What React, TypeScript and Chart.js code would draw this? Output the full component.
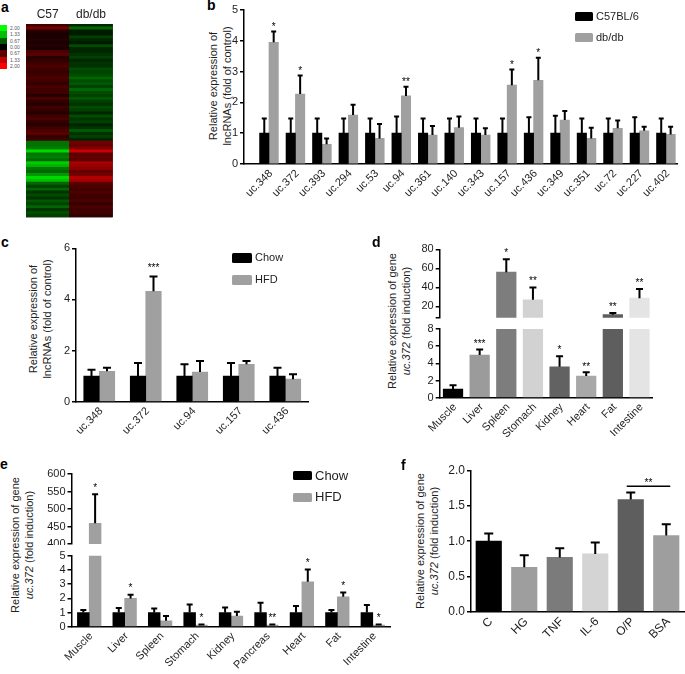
import React, { useEffect, useRef } from 'react';
import { Chart, registerables } from 'chart.js';

Chart.register(...registerables);

const FONT = "'Liberation Sans', Arial, Helvetica, sans-serif";
const INK = '#1e1e1e';
Chart.defaults.font.family = FONT;

// ---------------- panel a (heat map) ----------------
const heatColumns = ['C57', 'db/db'];
const heatC57 = [
  0.5, 0.9, 0.3, 0.2, 0.2, 0.3, 0.2, 0.3, 0.2, 0.6, 0.7, 0.3, 0.4, 0.5, 0.6, 0.5, 0.4, 0.5, 0.6, 0.5,
  0.4, 0.6, 0.5, 0.5, 0.3, 0.6, 0.4, 0.3, 0.5, 0.4, 0.3, 0.5, 0.6, 0.4, 0.3, 0.5, 0.6, 0.7, 0.4, 0.5,
  -0.9, -0.9, -1.0, -1.7, -0.9, -1.0, -0.8, -1.6, -1.4, -0.9, -0.8, -1.2, -1.7, -1.5, -0.8, -0.5,
  -0.8, -0.4, -0.6, -0.4, -0.7, -0.5, -0.8, -0.4, -0.6, -0.5,
];
const heatDb = [
  -0.3, -0.8, -0.2, -0.2, -0.5, -0.3, -0.2, -0.6, -0.3, -0.3, -0.4, -0.5, -0.3, -0.4, -0.4, -0.6, -0.5, -0.6, -0.8, -0.6,
  -0.7, -0.5, -0.8, -0.6, -0.5, -0.7, -0.5, -0.4, -0.6, -0.5, -0.3, -0.6, -0.4, -0.5, -0.3, -0.4, -0.7, -0.4, -0.5, -0.3,
  0.9, 0.8, 1.0, 1.6, 0.7, 0.8, 0.7, 1.3, 1.2, 1.1, 0.8, 0.9, 1.4, 1.3, 0.7, 0.6,
  0.5, 0.6, 0.5, 0.5, 0.6, 0.4, 0.6, 0.5, 0.5, 0.4,
];
const heatScaleLabels = ['2.00', '1.33', '0.67', '0.00', '0.67', '1.33', '2.00'];
const heatScaleColors = ['#00ff00', '#00c000', '#005a00', '#000000', '#5a0000', '#c00000', '#ff0000'];

// ---------------- panel b ----------------
const bCategories = ['uc.348', 'uc.372', 'uc.393', 'uc.294', 'uc.53', 'uc.94', 'uc.361', 'uc.140',
  'uc.343', 'uc.157', 'uc.436', 'uc.349', 'uc.351', 'uc.72', 'uc.227', 'uc.402'];
const bSeries = ['C57BL/6', 'db/db'];
const bColors = ['#000000', '#a0a0a0'];
const bC57 = [1, 1, 1, 1, 1, 1, 1, 1, 1, 1, 1, 1, 1, 1, 1, 1];
const bC57Err = [0.48, 0.48, 0.48, 0.48, 0.48, 0.54, 0.48, 0.48, 0.48, 0.48, 0.52, 0.57, 0.48, 0.48, 0.52, 0.48];
const bDb = [3.95, 2.27, 0.64, 1.59, 0.83, 2.21, 0.94, 1.18, 0.94, 2.56, 2.72, 1.43, 0.83, 1.16, 1.08, 0.96];
const bDbErr = [0.35, 0.6, 0.19, 0.33, 0.47, 0.3, 0.29, 0.36, 0.22, 0.51, 0.73, 0.29, 0.35, 0.25, 0.13, 0.25];
const bSig = ['*', '*', '', '', '', '**', '', '', '', '*', '*', '', '', '', '', ''];
const bTicks = [0, 1, 2, 3, 4, 5];

// ---------------- panel c ----------------
const cCategories = ['uc.348', 'uc.372', 'uc.94', 'uc.157', 'uc.436'];
const cSeries = ['Chow', 'HFD'];
const cChow = [1, 1, 1, 1, 1];
const cChowErr = [0.25, 0.51, 0.46, 0.51, 0.33];
const cHFD = [1.19, 4.32, 1.16, 1.46, 0.88];
const cHFDErr = [0.14, 0.58, 0.43, 0.13, 0.19];
const cSig = ['', '***', '', '', ''];
const cTicks = [0, 2, 4, 6];

// ---------------- panel d ----------------
const dCategories = ['Muscle', 'Liver', 'Spleen', 'Stomach', 'Kidney', 'Heart', 'Fat', 'Intestine'];
const dValues = [1.0, 4.96, 55.9, 26.9, 3.6, 2.52, 11.2, 28.6];
const dErrors = [0.45, 0.66, 13.6, 13.0, 1.24, 0.43, 1.8, 9.5];
const dSig = ['', '***', '*', '**', '*', '**', '**', '**'];
const dShades = ['#000000', '#9b9b9b', '#7d7d7d', '#d2d2d2', '#626262', '#a8a8a8', '#5e5e5e', '#e4e4e4'];
const dTicksLow = [0, 2, 4, 6, 8];
const dTicksHigh = [8, 20, 40, 60, 80];

// ---------------- panel e ----------------
const eCategories = ['Muscle', 'Liver', 'Spleen', 'Stomach', 'Kidney', 'Pancreas', 'Heart', 'Fat', 'Intestine'];
const eSeries = ['Chow', 'HFD'];
const eChow = [1, 1, 1, 1, 1, 1, 1, 1, 1];
const eChowErr = [0.17, 0.31, 0.29, 0.57, 0.36, 0.69, 0.45, 0.17, 0.52];
const eHFD = [459, 1.99, 0.42, 0.12, 0.75, 0.12, 3.16, 2.11, 0.12];
const eHFDErr = [83, 0.26, 0.33, 0.04, 0.3, 0.04, 0.87, 0.3, 0.04];
const eSig = ['*', '*', '', '*', '', '**', '*', '*', '*'];
const eTicksLow = [0, 1, 2, 3, 4, 5];
const eTicksHigh = [400, 450, 500, 550, 600];

// ---------------- panel f ----------------
const fCategories = ['C', 'HG', 'TNF', 'IL-6', 'O/P', 'BSA'];
const fValues = [1.0, 0.63, 0.77, 0.82, 1.59, 1.08];
const fErrors = [0.11, 0.17, 0.13, 0.16, 0.1, 0.16];
const fShades = ['#000000', '#9e9e9e', '#7b7b7b', '#d4d4d4', '#5e5e5e', '#9e9e9e'];
const fTicks = [0, 0.5, 1, 1.5, 2];
const fBrackets = [{ from: 4, to: 5, value: 1.78, label: '**' }];

// ---------------- helpers ----------------
type Area = { l: number; t: number; r: number; b: number; yW: number; xH: number; xTop?: boolean };
type Pad = { l: number; t: number; r: number; b: number };

function frame(a: Area, pad: Pad) {
  const left = Math.floor(a.l - a.yW - pad.l);
  const top = Math.floor(a.t - pad.t - (a.xTop ? a.xH : 0));
  const right = Math.ceil(a.r + pad.r);
  const bottom = Math.ceil(a.b + pad.b + (a.xTop ? 0 : a.xH));
  return {
    left,
    top,
    width: right - left,
    height: bottom - top,
    padding: {
      left: a.l - a.yW - left,
      top: a.t - (a.xTop ? a.xH : 0) - top,
      right: right - a.r,
      bottom: bottom - a.b - (a.xTop ? 0 : a.xH),
    },
  };
}

const base = (padding: any) => ({
  responsive: false,
  maintainAspectRatio: false,
  animation: false,
  devicePixelRatio: 1,
  events: [],
  layout: { padding },
  plugins: { legend: { display: false }, tooltip: { enabled: false }, title: { display: false } },
});

function yAxis(a: Area, min: number, max: number, ticks: number[], size = 11,
  fmt: (v: number) => string = (v) => String(v), hide: number[] = []) {
  return {
    type: 'linear',
    min,
    max,
    afterBuildTicks: (s: any) => { s.ticks = ticks.map((v) => ({ value: v })); },
    afterFit: (s: any) => { s.width = a.yW; s.paddingTop = 0; s.paddingBottom = 0; },
    border: { display: true, color: '#000', width: 1.5 },
    grid: { display: true, drawOnChartArea: false, drawTicks: true, tickLength: 4, color: '#000', lineWidth: 1.5 },
    ticks: {
      font: { family: FONT, size },
      color: INK,
      padding: 2,
      autoSkip: false,
      callback: (v: number) => (hide.includes(v) ? '' : fmt(v)),
    },
  };
}

function xAxis(a: Area, size = 11, display = true) {
  return {
    type: 'category',
    display,
    offset: true,
    afterFit: (s: any) => { s.height = a.xH; s.paddingLeft = 0; s.paddingRight = 0; },
    border: { display: true, color: '#000', width: 1.5 },
    grid: { display: false, drawTicks: false },
    ticks: {
      font: { family: FONT, size },
      color: INK,
      minRotation: 45,
      maxRotation: 45,
      autoSkip: false,
      padding: 3,
      labelOffset: 2,
    },
  };
}

type ErrCfg = {
  errors: number[][];
  sig: string[][];
  cap: number;
  width: number;
  gap: number;
  star: number;
  brackets?: { from: number; to: number; value: number; label: string }[];
};

function errorBars(cfg: ErrCfg) {
  return {
    id: 'errorBars',
    afterDatasetsDraw(chart: any) {
      const ctx = chart.ctx;
      const ys = chart.scales.y;
      const xs = chart.scales.x;
      ctx.save();
      ctx.strokeStyle = '#000';
      ctx.fillStyle = '#000';
      ctx.lineWidth = cfg.width;
      ctx.font = `${cfg.star}px ${FONT}`;
      ctx.textAlign = 'center';
      ctx.textBaseline = 'alphabetic';
      chart.data.datasets.forEach((ds: any, di: number) => {
        const meta = chart.getDatasetMeta(di);
        meta.data.forEach((el: any, i: number) => {
          const raw = ds.data[i];
          const v = raw != null && typeof raw === 'object' ? raw.y : raw;
          if (v == null || v > ys.max || v < ys.min) return;
          const e = (cfg.errors[di] || [])[i] || 0;
          const x = el.x;
          const top = ys.getPixelForValue(v + e);
          if (e > 0) {
            ctx.beginPath();
            ctx.moveTo(x, el.y);
            ctx.lineTo(x, top);
            ctx.moveTo(x - cfg.cap / 2, top);
            ctx.lineTo(x + cfg.cap / 2, top);
            ctx.stroke();
          }
          const s = (cfg.sig[di] || [])[i];
          if (s) ctx.fillText(s, x, top - cfg.gap + 0.57 * cfg.star);
        });
      });
      (cfg.brackets || []).forEach((bk) => {
        const y = ys.getPixelForValue(bk.value);
        const x1 = xs.getPixelForValue(bk.from) - 4;
        const x2 = xs.getPixelForValue(bk.to) + 4;
        ctx.lineWidth = 1.5;
        ctx.beginPath();
        ctx.moveTo(x1, y);
        ctx.lineTo(x2, y);
        ctx.stroke();
        ctx.fillText(bk.label, (x1 + x2) / 2, y - 6 + 0.57 * cfg.star);
      });
      ctx.restore();
    },
  };
}

const heatBackdrop = {
  id: 'heatBackdrop',
  beforeDatasetsDraw(chart: any) {
    const { ctx, chartArea: a } = chart;
    ctx.save();
    ctx.fillStyle = '#000';
    ctx.fillRect(a.left, a.top, a.right - a.left, a.bottom - a.top);
    ctx.restore();
  },
};

const heatColor = (v: number) => {
  const k = Math.round(Math.min(1, Math.abs(v) / 2) * 255);
  return v >= 0 ? `rgb(${k},0,0)` : `rgb(0,${k},0)`;
};

function ChartCanvas({ area, pad, make }: { area: Area; pad: Pad; make: (padding: any) => any }) {
  const ref = useRef<HTMLCanvasElement>(null);
  const f = frame(area, pad);
  useEffect(() => {
    const chart = new Chart(ref.current as HTMLCanvasElement, make(f.padding));
    return () => chart.destroy();
  }, []);
  return (
    <canvas
      ref={ref}
      width={f.width}
      height={f.height}
      style={{ position: 'absolute', left: f.left, top: f.top, width: f.width, height: f.height }}
    />
  );
}

function Letter({ ch, x, y }: { ch: string; x: number; y: number }) {
  return (
    <div style={{ position: 'absolute', left: x, top: y, font: `bold 14px ${FONT}`, lineHeight: '14px', color: '#000' }}>
      {ch}
    </div>
  );
}

function YTitle({ cx, cy, children }: { cx: number; cy: number; children: React.ReactNode }) {
  return (
    <div
      style={{
        position: 'absolute', left: cx, top: cy, transform: 'translate(-50%, -50%) rotate(-90deg)',
        whiteSpace: 'nowrap', textAlign: 'center', font: `11px ${FONT}`, lineHeight: '13.5px', color: INK,
      }}
    >
      {children}
    </div>
  );
}

function Legend({ x, y, w, h, step, size, items }: {
  x: number; y: number; w: number; h: number; step: number; size: number;
  items: { label: string; color: string }[];
}) {
  return (
    <>
      {items.map((it, i) => (
        <React.Fragment key={it.label}>
          <div style={{ position: 'absolute', left: x, top: y + i * step, width: w, height: h, background: it.color, borderRadius: 1.5 }} />
          <div style={{ position: 'absolute', left: x + w + 3, top: y + i * step + h / 2 - size * 0.6, font: `${size}px ${FONT}`, lineHeight: `${size * 1.2}px`, color: INK, whiteSpace: 'nowrap' }}>
            {it.label}
          </div>
        </React.Fragment>
      ))}
    </>
  );
}

// ---------------- geometry of plot areas ----------------
const heatArea: Area = { l: 26, t: 24, r: 112.7, b: 217.3, yW: 0, xH: 24, xTop: true };
const bArea: Area = { l: 244, t: 10, r: 677.3, b: 164, yW: 30, xH: 45 };
const cArea: Area = { l: 76, t: 248.3, r: 308.5, b: 401.7, yW: 30, xH: 48 };
const dTopArea: Area = { l: 439.7, t: 249.3, r: 652.8, b: 317.7, yW: 30, xH: 0 };
const dLowArea: Area = { l: 439.7, t: 329, r: 652.8, b: 397.7, yW: 30, xH: 50 };
const eTopArea: Area = { l: 71.5, t: 474, r: 390.5, b: 544, yW: 30, xH: 0 };
const eLowArea: Area = { l: 71.5, t: 555.7, r: 390.5, b: 626.7, yW: 30, xH: 46 };
const fArea: Area = { l: 471, t: 470.7, r: 684, b: 611.7, yW: 34, xH: 50 };

const PAD: Pad = { l: 0, t: 8, r: 5, b: 1 };

export default function App() {
  const heatRows = heatC57.map((c, i) => [c, heatDb[i]]);
  return (
    <div style={{ position: 'absolute', left: 0, top: 0, width: 685, height: 674, overflow: 'hidden', background: '#fff' }}>
      {/* panel a */}
      <Letter ch="a" x={1} y={0} />
      {heatScaleColors.map((c, i) => (
        <div key={'hs' + i} style={{ position: 'absolute', left: 0, top: 25 + i * 6.3, width: 7, height: 6.4, background: c }} />
      ))}
      {heatScaleLabels.map((t, i) => (
        <div key={'hl' + i} style={{ position: 'absolute', left: 10, top: 25 + i * 6.3, height: 6.3, font: `5px ${FONT}`, lineHeight: '6.3px', color: '#555' }}>
          {t}
        </div>
      ))}
      <ChartCanvas
        area={heatArea}
        pad={{ l: 0, t: 0, r: 0, b: 0 }}
        make={(padding) => ({
          type: 'bar',
          data: {
            labels: heatColumns,
            datasets: heatRows.slice().reverse().map((row) => ({
              data: [1, 1],
              backgroundColor: [heatColor(row[0]), heatColor(row[1])],
              borderWidth: 0,
              categoryPercentage: 1,
              barPercentage: 1,
              stack: 'heat',
            })),
          },
          options: {
            ...base(padding),
            scales: {
              x: {
                position: 'top',
                stacked: true,
                offset: true,
                afterFit: (s: any) => { s.height = heatArea.xH; s.paddingLeft = 0; s.paddingRight = 0; },
                grid: { display: false, drawTicks: false },
                border: { display: false },
                ticks: { font: { family: FONT, size: 12 }, color: INK, padding: 2, maxRotation: 0 },
              },
              y: { display: false, stacked: true, min: 0, max: heatRows.length },
            },
          },
          plugins: [heatBackdrop],
        })}
      />

      {/* panel b */}
      <Letter ch="b" x={207} y={-2} />
      <YTitle cx={220} cy={86}>
        Relative expression of<br />lncRNAs (fold of control)
      </YTitle>
      <ChartCanvas
        area={bArea}
        pad={PAD}
        make={(padding) => ({
          type: 'bar',
          data: {
            datasets: [
              { label: bSeries[0], data: bC57.map((y, x) => ({ x, y })), backgroundColor: bColors[0], barThickness: 9.4, borderWidth: 0 },
              { label: bSeries[1], data: bDb.map((y, x) => ({ x, y })), backgroundColor: bColors[1], barThickness: 9.4, borderWidth: 0 },
            ],
          },
          options: {
            ...base(padding),
            scales: {
              x: {
                ...xAxis(bArea),
                type: 'linear',
                min: -0.944,
                max: 15.43,
                offset: false,
                grid: { display: false, drawTicks: false, offset: false },
                afterBuildTicks: (s: any) => { s.ticks = bCategories.map((_, i) => ({ value: i })); },
                ticks: { ...xAxis(bArea).ticks, callback: (v: number) => bCategories[Math.round(v)] },
              },
              y: yAxis(bArea, 0, 5, bTicks),
            },
          },
          plugins: [errorBars({ errors: [bC57Err, bDbErr], sig: [[], bSig], cap: 5, width: 2, gap: 7, star: 10 })],
        })}
      />
      <Legend x={575} y={12} w={18} h={9} step={21} size={11}
        items={[{ label: bSeries[0], color: bColors[0] }, { label: bSeries[1], color: bColors[1] }]} />

      {/* panel c */}
      <Letter ch="c" x={1} y={235} />
      <YTitle cx={40} cy={319}>
        Relative expression of<br />lncRNAs (fold of control)
      </YTitle>
      <ChartCanvas
        area={cArea}
        pad={PAD}
        make={(padding) => ({
          type: 'bar',
          data: {
            labels: cCategories,
            datasets: [
              { label: cSeries[0], data: cChow, backgroundColor: bColors[0], barThickness: 15.5, borderWidth: 0 },
              { label: cSeries[1], data: cHFD, backgroundColor: bColors[1], barThickness: 15.5, borderWidth: 0 },
            ],
          },
          options: { ...base(padding), scales: { x: xAxis(cArea), y: yAxis(cArea, 0, 6, cTicks) } },
          plugins: [errorBars({ errors: [cChowErr, cHFDErr], sig: [[], cSig], cap: 8, width: 2, gap: 11, star: 10 })],
        })}
      />
      <Legend x={232} y={252.7} w={20} h={10} step={22.3} size={11}
        items={[{ label: cSeries[0], color: bColors[0] }, { label: cSeries[1], color: bColors[1] }]} />

      {/* panel d */}
      <Letter ch="d" x={372} y={235} />
      <YTitle cx={399} cy={321}>
        Relative expression of gene<br /><i>uc.372</i> (fold induction)
      </YTitle>
      <ChartCanvas
        area={dTopArea}
        pad={PAD}
        make={(padding) => ({
          type: 'bar',
          data: {
            labels: dCategories,
            datasets: [{ data: dValues.map((v) => (v > dTicksHigh[0] ? v : null)), backgroundColor: dShades, barThickness: 19.6, borderWidth: 0, clip: 0 }],
          },
          options: {
            ...base(padding),
            scales: {
              x: xAxis(dTopArea, 11, false),
              y: yAxis(dTopArea, dTicksHigh[0], dTicksHigh[dTicksHigh.length - 1], dTicksHigh, 11, (v) => String(v), [dTicksHigh[0]]),
            },
          },
          plugins: [errorBars({ errors: [dErrors], sig: [dSig], cap: 7, width: 2, gap: 9, star: 10 })],
        })}
      />
      <ChartCanvas
        area={dLowArea}
        pad={PAD}
        make={(padding) => ({
          type: 'bar',
          data: {
            labels: dCategories,
            datasets: [{ data: dValues, backgroundColor: dShades, barThickness: 19.6, borderWidth: 0, clip: 0 }],
          },
          options: {
            ...base(padding),
            scales: { x: xAxis(dLowArea), y: yAxis(dLowArea, 0, dTicksLow[dTicksLow.length - 1], dTicksLow) },
          },
          plugins: [errorBars({ errors: [dErrors], sig: [dSig], cap: 7, width: 2, gap: 8.5, star: 10 })],
        })}
      />

      {/* panel e */}
      <Letter ch="e" x={0} y={457} />
      <YTitle cx={21.5} cy={545}>
        Relative expression of gene<br /><i>uc.372</i> (fold induction)
      </YTitle>
      <ChartCanvas
        area={eTopArea}
        pad={PAD}
        make={(padding) => ({
          type: 'bar',
          data: {
            labels: eCategories,
            datasets: [
              { data: eChow.map((v) => (v > eTicksHigh[0] ? v : null)), backgroundColor: bColors[0], barThickness: 11.8, borderWidth: 0, clip: 0 },
              { data: eHFD.map((v) => (v > eTicksHigh[0] ? v : null)), backgroundColor: bColors[1], barThickness: 11.8, borderWidth: 0, clip: 0 },
            ],
          },
          options: {
            ...base(padding),
            scales: {
              x: xAxis(eTopArea, 11, false),
              y: yAxis(eTopArea, eTicksHigh[0], eTicksHigh[eTicksHigh.length - 1], eTicksHigh),
            },
          },
          plugins: [errorBars({ errors: [eChowErr, eHFDErr], sig: [[], eSig], cap: 6, width: 2, gap: 9, star: 10 })],
        })}
      />
      <ChartCanvas
        area={eLowArea}
        pad={PAD}
        make={(padding) => ({
          type: 'bar',
          data: {
            labels: eCategories,
            datasets: [
              { data: eChow, backgroundColor: bColors[0], barThickness: 11.8, borderWidth: 0, clip: 0 },
              { data: eHFD, backgroundColor: bColors[1], barThickness: 11.8, borderWidth: 0, clip: 0 },
            ],
          },
          options: {
            ...base(padding),
            scales: { x: xAxis(eLowArea), y: yAxis(eLowArea, 0, eTicksLow[eTicksLow.length - 1], eTicksLow) },
          },
          plugins: [errorBars({ errors: [eChowErr, eHFDErr], sig: [[], eSig], cap: 6, width: 2, gap: 9, star: 10 })],
        })}
      />
      <Legend x={293} y={471} w={19} h={9} step={21.7} size={13}
        items={[{ label: eSeries[0], color: bColors[0] }, { label: eSeries[1], color: bColors[1] }]} />

      {/* panel f */}
      <Letter ch="f" x={401} y={458} />
      <YTitle cx={426.5} cy={541}>
        Relative expression of gene<br /><i>uc.372</i> (fold induction)
      </YTitle>
      <ChartCanvas
        area={fArea}
        pad={{ l: 0, t: 8, r: 1, b: 1 }}
        make={(padding) => ({
          type: 'bar',
          data: {
            labels: fCategories,
            datasets: [{ data: fValues, backgroundColor: fShades, barThickness: 25.5, borderWidth: 0 }],
          },
          options: {
            ...base(padding),
            scales: { x: xAxis(fArea, 12), y: yAxis(fArea, 0, 2, fTicks, 12, (v) => v.toFixed(1)) },
          },
          plugins: [errorBars({ errors: [fErrors], sig: [[]], cap: 9, width: 2, gap: 8, star: 10, brackets: fBrackets })],
        })}
      />
    </div>
  );
}
